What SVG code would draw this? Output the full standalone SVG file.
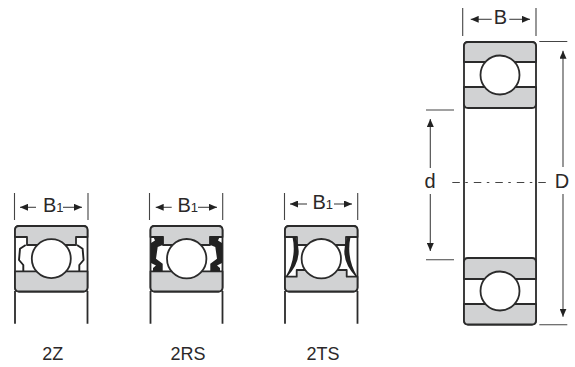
<svg xmlns="http://www.w3.org/2000/svg" width="575" height="367" viewBox="0 0 575 367">
<style>
.ink{fill:none;stroke:#2b2b2b;stroke-width:1.8}
.box{fill:#d1d2d3;stroke:#2b2b2b;stroke-width:1.8;stroke-linejoin:round}
.ball{fill:#fff;stroke:#2b2b2b;stroke-width:1.8}
.dim{fill:none;stroke:#444;stroke-width:1.1}
.shield{fill:none;stroke:#222;stroke-width:1.9;stroke-linejoin:round}
.solid{fill:#222;stroke:none}
text{font-family:"Liberation Sans",Arial,sans-serif;fill:#2b2829}
.lbl{font-size:20px;text-anchor:middle}
.cap{font-size:18px;text-anchor:middle}
</style>
<defs>
<marker id="a" viewBox="0 0 8 7" refX="8" refY="3.500" markerWidth="8" markerHeight="7" markerUnits="userSpaceOnUse" orient="auto-start-reverse"><path d="M0 0L8 3.500L0 7Z" fill="#222"/></marker>
</defs>
<g id="bearing-main">
<rect class="ink" x="464" y="42" width="72" height="282.500" rx="4"/>
<path class="box" d="M464 62V46Q464 42 468 42H532Q536 42 536 46V62Z"/>
<path class="box" d="M464 87H536V104Q536 108 532 108H468Q464 108 464 104Z"/>
<path class="box" d="M464 279V262Q464 258 468 258H532Q536 258 536 262V279Z"/>
<path class="box" d="M464 304H536V320.500Q536 324.500 532 324.500H468Q464 324.500 464 320.500Z"/>
<circle class="ball" cx="500" cy="75" r="19.500"/>
<circle class="ball" cx="500" cy="291" r="19.500"/>
<text class="lbl" x="500.500" y="24">B</text>
<text class="lbl" x="430" y="188">d</text>
<text class="lbl" x="562" y="188">D</text>
</g>
<g id="bearing-2z">
<rect class="ink" x="15" y="226" width="72.500" height="65.500" rx="4"/>
<path class="box" d="M15 237V230Q15 226 19 226H83.500Q87.500 226 87.500 230V237H76V245H27V237Z"/>
<path class="box" d="M15 271.300H87.500V287.500Q87.500 291.500 83.500 291.500H19Q15 291.500 15 287.500Z"/>
<path class="shield" d="M25.700 245L20 248.700L19 260L23.300 265V271M77 245L82.600 248.700L83.600 260L79.300 265V271"/>
<circle class="ball" cx="51.300" cy="258.700" r="19.500"/>
<text class="lbl" x="43" y="212.300" style="text-anchor:start">B<tspan font-size="13">1</tspan></text>
<text class="cap" x="52.700" y="360">2Z</text>
</g>
<g id="bearing-2rs">
<rect class="ink" x="150.500" y="226" width="72" height="65.500" rx="4"/>
<path class="box" d="M150.500 237V230Q150.500 226 154.500 226H218.500Q222.500 226 222.500 230V237H210V245H163V237Z"/>
<path class="box" d="M150.500 271.300H222.500V287.500Q222.500 291.500 218.500 291.500H154.500Q150.500 291.500 150.500 287.500Z"/>
<path class="solid" d="M153 236H163.300V244.700L157.700 247L156 258.700L162.700 263.700V271.300H153V268L156 265.500L151 263V243L155 240.500Z"/>
<path class="solid" d="M220 236H209.700V244.700L215.300 247L217 258.700L210.300 263.700V271.300H220V268L217 265.500L222 263V243L218 240.500Z"/>
<circle class="ball" cx="186.700" cy="258.700" r="19.700"/>
<text class="lbl" x="177.500" y="212.300" style="text-anchor:start">B<tspan font-size="13">1</tspan></text>
<text class="cap" x="188" y="360">2RS</text>
</g>
<g id="bearing-2ts">
<rect class="ink" x="285" y="226" width="72.500" height="65.500" rx="4"/>
<path class="box" d="M285 237V230Q285 226 289 226H353.500Q357.500 226 357.500 230V237H346V245H297V237Z"/>
<path class="box" d="M285 276.700H296.700V270H346.700V276.700H357.500V287.500Q357.500 291.500 353.500 291.500H289Q285 291.500 285 287.500Z"/>
<path class="solid" d="M292.500 237H295.500Q304.800 258 287 277H285.500Q297 258 292.500 237Z"/>
<path class="solid" d="M350.500 237H347.500Q338.200 258 356 277H357.500Q346 258 350.500 237Z"/>
<circle class="ball" cx="321.300" cy="258.700" r="19.700"/>
<text class="lbl" x="312.500" y="208.500" style="text-anchor:start">B<tspan font-size="13">1</tspan></text>
<text class="cap" x="323" y="360">2TS</text>
</g>
<g id="connectors">
<path class="dim" d="M14.500 193V220M88 193V220M149.500 193V220M222.700 193V220M284.500 193V220M357.700 193V220M462.700 8V36M536 8V36M539.300 41.500H567.300M539.300 324.700H567.300M426 110H454M426 259.700H454"/>
<path class="ink" d="M15 291V323.700M87.500 291V323.700M150.500 291V323.700M222.500 291V323.700M285 291V323.700M357.500 291V323.700"/>
<path class="dim" stroke-dasharray="7.500 5.500 2.500 6" d="M452.300 182.500H547"/>
<path class="dim" marker-start="url(#a)" marker-end="url(#a)" d="M563 50.700V167M563 194V316.700"/>
<path class="dim" marker-start="url(#a)" d="M430.300 119V168"/>
<path class="dim" marker-end="url(#a)" d="M430.300 194V251"/>
<path class="dim" marker-start="url(#a)" d="M470.700 19.300H491.700"/>
<path class="dim" marker-end="url(#a)" d="M509.300 19.300H530"/>
<path class="dim" marker-start="url(#a)" d="M20 207.300H36"/>
<path class="dim" marker-end="url(#a)" d="M63 207.300H82"/>
<path class="dim" marker-start="url(#a)" d="M155.700 207.300H171.700"/>
<path class="dim" marker-end="url(#a)" d="M198 207.300H217"/>
<path class="dim" marker-start="url(#a)" d="M290 204H307"/>
<path class="dim" marker-end="url(#a)" d="M334 204H352"/>
</g>
</svg>
